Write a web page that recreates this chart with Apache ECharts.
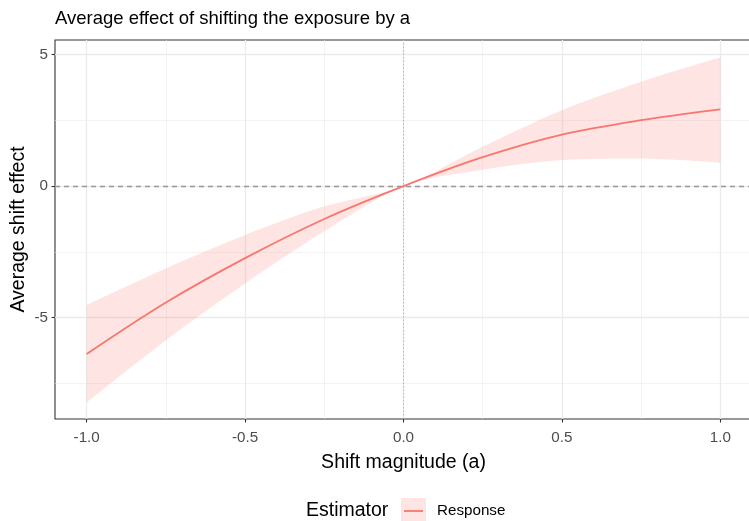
<!DOCTYPE html>
<html>
<head>
<meta charset="utf-8">
<script src="https://cdn.jsdelivr.net/npm/echarts@6/dist/echarts.min.js"></script>
<style>html,body{margin:0;padding:0;background:#fff;}#c{width:749px;height:521px;}</style>
</head>
<body>
<div id="c"></div>
<script>
const shiftX = [-1, -0.75, -0.5, -0.25, 0, 0.25, 0.5, 0.75, 1];
const estimate = [-6.39, -4.43, -2.74, -1.25, 0, 1.10, 1.96, 2.51, 2.92];
const lowerCI = [-8.23, -5.86, -3.70, -1.72, 0, 0.62, 0.99, 1.05, 0.89];
const upperCI = [-4.52, -3.13, -1.86, -0.77, 0, 1.50, 2.89, 3.97, 4.89];
const xMajor = [-1, -0.5, 0, 0.5, 1];
const xMinor = [-0.75, -0.25, 0.25, 0.75];
const yMajor = [-5, 0, 5];
const yMinor = [-7.5, -2.5, 2.5];
const xTickLabels = ['-1.0', '-0.5', '0.0', '0.5', '1.0'];

const FONT = 'Liberation Sans, Arial, sans-serif';
const X_MIN = -1.1, X_MAX = 1.1, Y_MIN = -8.86, Y_MAX = 5.56;
const chart = echarts.init(document.getElementById('c'));

// panel geometry (layout only)
const PL = 55, PT = 40, PW = 697, PB = 102, W = 749;
const xPx = v => PL + (v - X_MIN) / (X_MAX - X_MIN) * PW;
const g2Left = xPx(shiftX[0]);
const g2Right = W - xPx(shiftX[shiftX.length - 1]);

const gridLines = [];
xMinor.forEach(v => gridLines.push({xAxis: v, lineStyle: {width: 0.6}}));
yMinor.forEach(v => gridLines.push({yAxis: v, lineStyle: {width: 0.6}}));
xMajor.forEach(v => gridLines.push({xAxis: v, lineStyle: {width: 1.3}}));
yMajor.forEach(v => gridLines.push({yAxis: v, lineStyle: {width: 1.3}}));

chart.setOption({
  animation: false,
  title: {
    text: 'Average effect of shifting the exposure by a',
    left: 50, top: 4,
    textStyle: {fontFamily: FONT, fontSize: 18.5, fontWeight: 'normal', color: '#000'}
  },
  grid: [
    {left: PL, top: PT, right: W - PL - PW, bottom: PB, show: true, borderColor: '#333', borderWidth: 1.1,
     backgroundColor: 'transparent', outerBoundsMode: 'none', containLabel: false, z: 0},
    {left: g2Left, top: PT, right: g2Right, bottom: PB, show: false, outerBoundsMode: 'none', containLabel: false}
  ],
  xAxis: [{
    type: 'value', min: X_MIN, max: X_MAX, gridIndex: 0,
    name: 'Shift magnitude (a)', nameLocation: 'middle', nameGap: 34,
    nameTextStyle: {fontFamily: FONT, fontSize: 19.5, color: '#000'},
    axisLine: {show: false, onZero: false},
    splitLine: {show: false},
    axisTick: {show: true, length: 3.5, lineStyle: {color: '#333', width: 1.1}, customValues: xMajor},
    axisLabel: {color: '#4D4D4D', fontFamily: FONT, fontSize: 15.2, margin: 11, customValues: xMajor,
      formatter: v => xTickLabels[xMajor.indexOf(v)] !== undefined ? xTickLabels[xMajor.indexOf(v)] : ''}
  }, {
    type: 'category', gridIndex: 1, data: shiftX.map(String), boundaryGap: false, show: false
  }],
  yAxis: [{
    type: 'value', min: Y_MIN, max: Y_MAX, gridIndex: 0,
    axisLine: {show: false, onZero: false},
    splitLine: {show: false},
    axisTick: {show: true, length: 3.5, lineStyle: {color: '#333', width: 1.1}, customValues: yMajor},
    axisLabel: {color: '#4D4D4D', fontFamily: FONT, fontSize: 15.2, margin: 7, customValues: yMajor}
  }, {
    type: 'value', min: Y_MIN, max: Y_MAX, gridIndex: 1, show: false, splitLine: {show: false}
  }],
  series: [
    {
      type: 'line', data: [], silent: true, z: 0, xAxisIndex: 0, yAxisIndex: 0,
      markLine: {silent: true, symbol: 'none', label: {show: false}, z: 0, animation: false,
        lineStyle: {color: '#EBEBEB', type: 'solid'}, data: gridLines}
    },
    {
      type: 'line', name: 'lower', stack: 'band', stackStrategy: 'all', symbol: 'none', smooth: 0.3, z: 2,
      xAxisIndex: 1, yAxisIndex: 1,
      data: lowerCI,
      lineStyle: {opacity: 0}
    },
    {
      type: 'line', name: 'band', stack: 'band', stackStrategy: 'all', symbol: 'none', smooth: 0.3, z: 2,
      xAxisIndex: 1, yAxisIndex: 1,
      data: upperCI.map((u, i) => u - lowerCI[i]),
      lineStyle: {opacity: 0}, areaStyle: {color: 'rgba(248,118,109,0.2)', opacity: 1}
    },
    {
      type: 'line', data: [], silent: true, z: 3, xAxisIndex: 0, yAxisIndex: 0,
      markLine: {silent: true, symbol: 'none', label: {show: false}, z: 3, animation: false,
        data: [
          {yAxis: 0, lineStyle: {color: '#999999', type: [5, 4], width: 1.3}},
          {xAxis: 0, lineStyle: {color: '#AAAAAA', type: [1.5, 2], width: 0.8}}
        ]}
    },
    {
      type: 'line', name: 'Response', symbol: 'none', smooth: 0.35, z: 4,
      xAxisIndex: 1, yAxisIndex: 1,
      data: estimate,
      lineStyle: {color: '#F8766D', width: 1.8}
    }
  ],
  graphic: [
    {type: 'text', x: 19, y: 229.5, rotation: Math.PI / 2,
     style: {text: 'Average shift effect', font: '19.5px ' + FONT, fill: '#000', align: 'center', verticalAlign: 'middle'}},
    {type: 'text', left: 306, top: 501, style: {text: 'Estimator', font: '19.5px ' + FONT, fill: '#000'}},
    {type: 'rect', shape: {x: 401, y: 498, width: 25, height: 25}, style: {fill: 'rgba(248,118,109,0.2)'}},
    {type: 'line', shape: {x1: 404, y1: 511, x2: 423, y2: 511}, style: {stroke: '#F8766D', lineWidth: 1.8}},
    {type: 'text', left: 437, top: 503, style: {text: 'Response', font: '15.2px ' + FONT, fill: '#000'}}
  ]
});
</script>
</body>
</html>
